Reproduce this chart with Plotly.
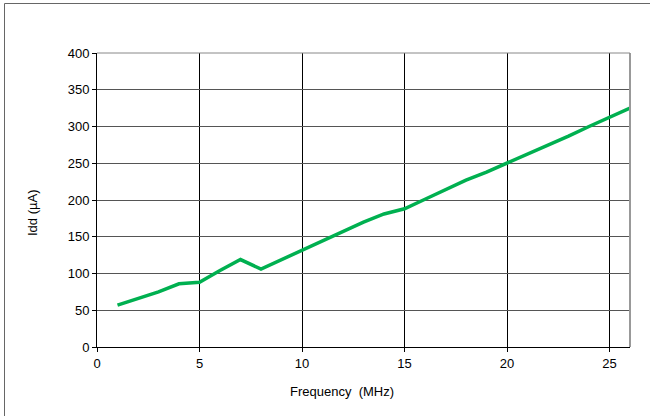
import plotly.graph_objects as go

freq_mhz = [1, 2, 3, 4, 5, 6, 7, 8, 9, 10, 11, 12, 13, 14, 15, 16, 17, 18, 19, 20, 21, 22, 23, 24, 25, 26]
idd_ua = [57, 66, 75, 86, 88, 104, 119, 106, 119, 132, 144, 157, 170, 181, 188, 201, 214, 227, 238, 250, 263, 275, 287, 300, 312, 325]

x_ticks = [0, 5, 10, 15, 20, 25]
y_ticks = [0, 50, 100, 150, 200, 250, 300, 350, 400]

W, H = 650, 416
L, R, T, B = 97, 20, 53, 69
pw, ph = W - L - R, H - T - B

def px(xp):
    return (xp - L) / pw

def py(yp):
    return (H - B - yp) / ph

fig = go.Figure()
fig.add_trace(go.Scatter(
    x=freq_mhz, y=idd_ua, mode="lines",
    line=dict(color="#00B050", width=3.5),
    showlegend=False, hoverinfo="skip",
))

font = dict(family="Liberation Sans, Arial, sans-serif", size=13, color="#000000")

fig.update_layout(
    width=W, height=H,
    margin=dict(l=L, r=R, t=T, b=B, pad=0),
    paper_bgcolor="white", plot_bgcolor="white",
    font=font,
    xaxis=dict(
        range=[0, 26], tickvals=x_ticks, ticktext=[str(v) for v in x_ticks],
        showgrid=True, gridcolor="#000000", gridwidth=1,
        showline=True, linecolor="#000000", linewidth=1,
        ticks="outside", ticklen=4, tickcolor="#000000",
        zeroline=False, fixedrange=True,
    ),
    yaxis=dict(
        range=[0, 400], tickvals=y_ticks, ticktext=[str(v) for v in y_ticks],
        showgrid=True, gridcolor="#555555", gridwidth=1,
        showline=True, linecolor="#000000", linewidth=1,
        ticks="outside", ticklen=4, tickcolor="#000000",
        zeroline=False, fixedrange=True,
    ),
    shapes=[
        dict(type="line", xref="paper", yref="paper", x0=1, x1=1, y0=0, y1=1,
             line=dict(color="#999999", width=2)),
        dict(type="line", xref="paper", yref="paper", x0=0, x1=1, y0=1, y1=1,
             line=dict(color="#888888", width=1)),
        dict(type="rect", xref="paper", yref="paper",
             x0=px(4.5), x1=px(660), y0=py(3.5), y1=py(430),
             line=dict(color="#666666", width=1), fillcolor="rgba(0,0,0,0)"),
    ],
    annotations=[
        dict(text="Idd (µA)", xref="paper", yref="paper", x=px(33), y=py(213),
             showarrow=False, textangle=-90, font=font, xanchor="center", yanchor="middle"),
        dict(text="Frequency  (MHz)", xref="paper", yref="paper", x=px(342), y=py(391),
             showarrow=False, font=font, xanchor="center", yanchor="middle"),
    ],
)

fig.write_html(
    "out.html",
    config={"displayModeBar": False, "staticPlot": True},
    post_script="document.body.style.margin='0';document.body.style.overflow='hidden';",
)
